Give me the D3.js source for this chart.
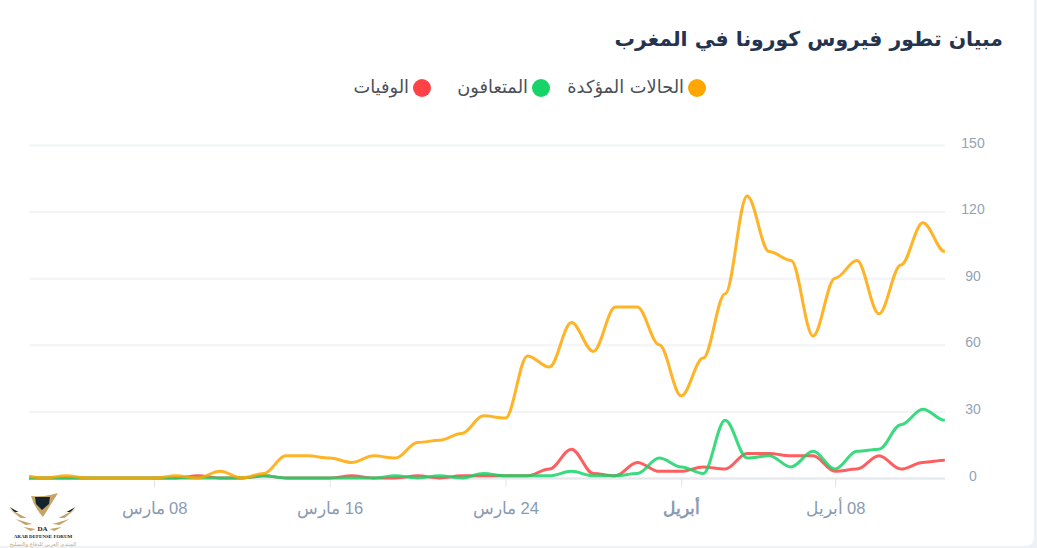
<!DOCTYPE html>
<html lang="ar">
<head>
<meta charset="utf-8">
<script src="https://cdnjs.cloudflare.com/ajax/libs/d3/7.8.5/d3.min.js"></script>
<style>
  html, body { margin: 0; padding: 0; background: #eef1f6; }
  svg { display: block; font-family: "DejaVu Sans", sans-serif; }
</style>
</head>
<body>
<svg id="chart" width="1037" height="548"></svg>
<script>
// daily values, 2 Mar -> 13 Apr
const startDay = Date.UTC(2020, 2, 2);
const confirmed = [1, 0, 1, 0, 0, 0, 0, 1, 0, 3, 0, 2, 10, 10, 9, 7, 10, 9, 16, 17, 20, 28, 27, 55, 50, 70, 57, 77, 77, 60, 37, 54, 83, 127, 102, 98, 64, 90, 98, 74, 96, 115, 102];
const recovered = [0, 0, 0, 0, 0, 0, 0, 0, 0, 0, 0, 1, 0, 0, 0, 0, 0, 1, 0, 1, 0, 2, 1, 1, 1, 3, 1, 1, 2, 9, 5, 2, 26, 9, 10, 5, 12, 4, 12, 13, 24, 31, 26];
const deaths = [0, 0, 0, 0, 0, 0, 0, 0, 1, 0, 0, 1, 0, 0, 0, 1, 0, 0, 1, 0, 1, 1, 1, 1, 4, 13, 2, 1, 7, 3, 3, 5, 4, 11, 11, 10, 10, 3, 4, 10, 4, 7, 8];

const seriesNames = ["الحالات المؤكدة", "المتعافون", "الوفيات"];
const seriesColors = ["#ffa600", "#17d468", "#ff4245"];
const yTicks = [0, 30, 60, 90, 120, 150];
const xTickDays = [Date.UTC(2020, 2, 8), Date.UTC(2020, 2, 16), Date.UTC(2020, 2, 24), Date.UTC(2020, 3, 1), Date.UTC(2020, 3, 8)];
const xTickLabels = ["08 مارس", "16 مارس", "24 مارس", "أبريل", "08 أبريل"];

const DAY = 86400000;
const plotLeft = 29, plotRight = 945, plotTop = 145, plotBottom = 478;

// flat tangent at every point, handles at 35% of the step
function curveSmooth(context) {
  let px, py, started;
  return {
    lineStart() { started = false; },
    lineEnd() {},
    point(px2, py2) {
      if (!started) {
        context.moveTo(px2, py2);
        started = true;
      } else {
        const len = (px2 - px) * 0.35;
        context.bezierCurveTo(px + len, py, px2 - len, py2, px2, py2);
      }
      px = px2;
      py = py2;
    }
  };
}

const svg = d3.select("#chart");

// card
svg.append("rect")
  .attr("x", -8).attr("y", -8)
  .attr("width", 1042).attr("height", 554)
  .attr("rx", 8)
  .attr("fill", "#fff");

svg.append("text")
  .attr("x", 1003).attr("y", 46)
  .attr("direction", "rtl")
  .attr("font-size", 20.4)
  .attr("font-weight", 700)
  .attr("fill", "#24344f")
  .text("مبيان تطور فيروس كورونا في المغرب");

const x = d3.scaleUtc()
  .domain([xTickDays[0], xTickDays[4]])
  .range([154, 835]);
const y = d3.scaleLinear().domain([0, 150]).range([plotBottom, plotTop]);

// y axis + grid
const yAxis = svg.append("g")
  .attr("transform", `translate(${plotRight},0)`)
  .call(d3.axisRight(y).tickValues(yTicks).tickSize(-(plotRight - plotLeft)).tickPadding(16));
yAxis.select(".domain").remove();
yAxis.selectAll("line").attr("stroke", "#f1f3f6").attr("stroke-width", 2);
yAxis.selectAll("text")
  .attr("font-size", 14)
  .attr("fill", "#94a3b5")
  .attr("text-anchor", "middle")
  .attr("x", 28)
  .attr("dy", "0.15em");

// x axis
const xAxis = svg.append("g")
  .attr("transform", `translate(0,${plotBottom})`)
  .call(d3.axisBottom(x).tickValues(xTickDays)
    .tickFormat((d, i) => xTickLabels[i])
    .tickSize(9).tickPadding(15).tickSizeOuter(0));
xAxis.select(".domain")
  .attr("d", `M${plotLeft},0.5H${plotRight}`)
  .attr("stroke", "#e4e7ec").attr("stroke-width", 2);
xAxis.selectAll("line").attr("stroke", "#dfe3e8");
xAxis.selectAll("text")
  .attr("font-size", 16.5)
  .attr("fill", "#8a9ab2")
  .attr("direction", "rtl")
  .attr("font-weight", (d, i) => xTickLabels[i] === "أبريل" ? 700 : 400);

// lines
svg.append("clipPath").attr("id", "plot")
  .append("rect")
  .attr("x", plotLeft).attr("y", 0)
  .attr("width", plotRight - plotLeft).attr("height", 500);

const line = d3.line()
  .x((d, i) => x(startDay + i * DAY))
  .y(d => y(d))
  .curve(curveSmooth);

const drawn = [
  { values: deaths, color: seriesColors[2] },
  { values: recovered, color: seriesColors[1] },
  { values: confirmed, color: seriesColors[0] }
];
svg.append("g").attr("clip-path", "url(#plot)")
  .selectAll("path")
  .data(drawn)
  .join("path")
  .attr("d", d => line(d.values))
  .attr("fill", "none")
  .attr("stroke", d => d.color)
  .attr("stroke-opacity", 0.85)
  .attr("stroke-width", 3);

// legend
const legendX = [697, 541, 422];
const legend = svg.append("g").selectAll("g")
  .data(seriesNames)
  .join("g")
  .attr("transform", (d, i) => `translate(${legendX[i]},88)`);
legend.append("circle")
  .attr("r", 9)
  .attr("fill", (d, i) => seriesColors[i]);
legend.append("text")
  .attr("x", -13).attr("y", 5)
  .attr("direction", "rtl")
  .attr("font-size", 17.8)
  .attr("fill", "#4a4f57")
  .text(d => d);

// forum logo, bottom left
const logo = svg.append("g");
const gold = "#c4a468";
logo.append("path").attr("d", "M31,496Q42,497 50,495L58,493L43,517Q34,507 31,496Z").attr("fill", gold);
logo.append("path").attr("d", "M35,497L50,497L49,504L42,510L36,504Z").attr("fill", "#13242f");
[1, -1].forEach(side => {
  const wing = logo.append("g").attr("transform", `translate(42.5,0) scale(${side},1)`);
  wing.append("path").attr("d", "M-33,507L-24,512L-28,512Z").attr("fill", "#1b1b1b");
  wing.append("path").attr("d", "M-33,509L-16,518L-22,518Z").attr("fill", gold);
  wing.append("path").attr("d", "M-27,519L-10,524L-17,525Z").attr("fill", gold);
  wing.append("path").attr("d", "M-19,527L-7,529L-12,531Z").attr("fill", gold);
});
logo.append("text")
  .attr("x", 42.5).attr("y", 531)
  .attr("text-anchor", "middle")
  .attr("font-family", "Liberation Serif")
  .attr("font-size", 7)
  .attr("font-weight", 700)
  .attr("fill", "#222")
  .text("DA");
logo.append("text")
  .attr("x", 43).attr("y", 538)
  .attr("text-anchor", "middle")
  .attr("font-family", "Liberation Serif")
  .attr("font-size", 5)
  .attr("font-weight", 700)
  .attr("fill", "#222")
  .text("ARAB DEFENSE FORUM");
logo.append("text")
  .attr("x", 43).attr("y", 546)
  .attr("text-anchor", "middle")
  .attr("direction", "rtl")
  .attr("font-size", 5.2)
  .attr("fill", gold)
  .text("المنتدى العربي للدفاع والتسليح");
</script>
</body>
</html>
